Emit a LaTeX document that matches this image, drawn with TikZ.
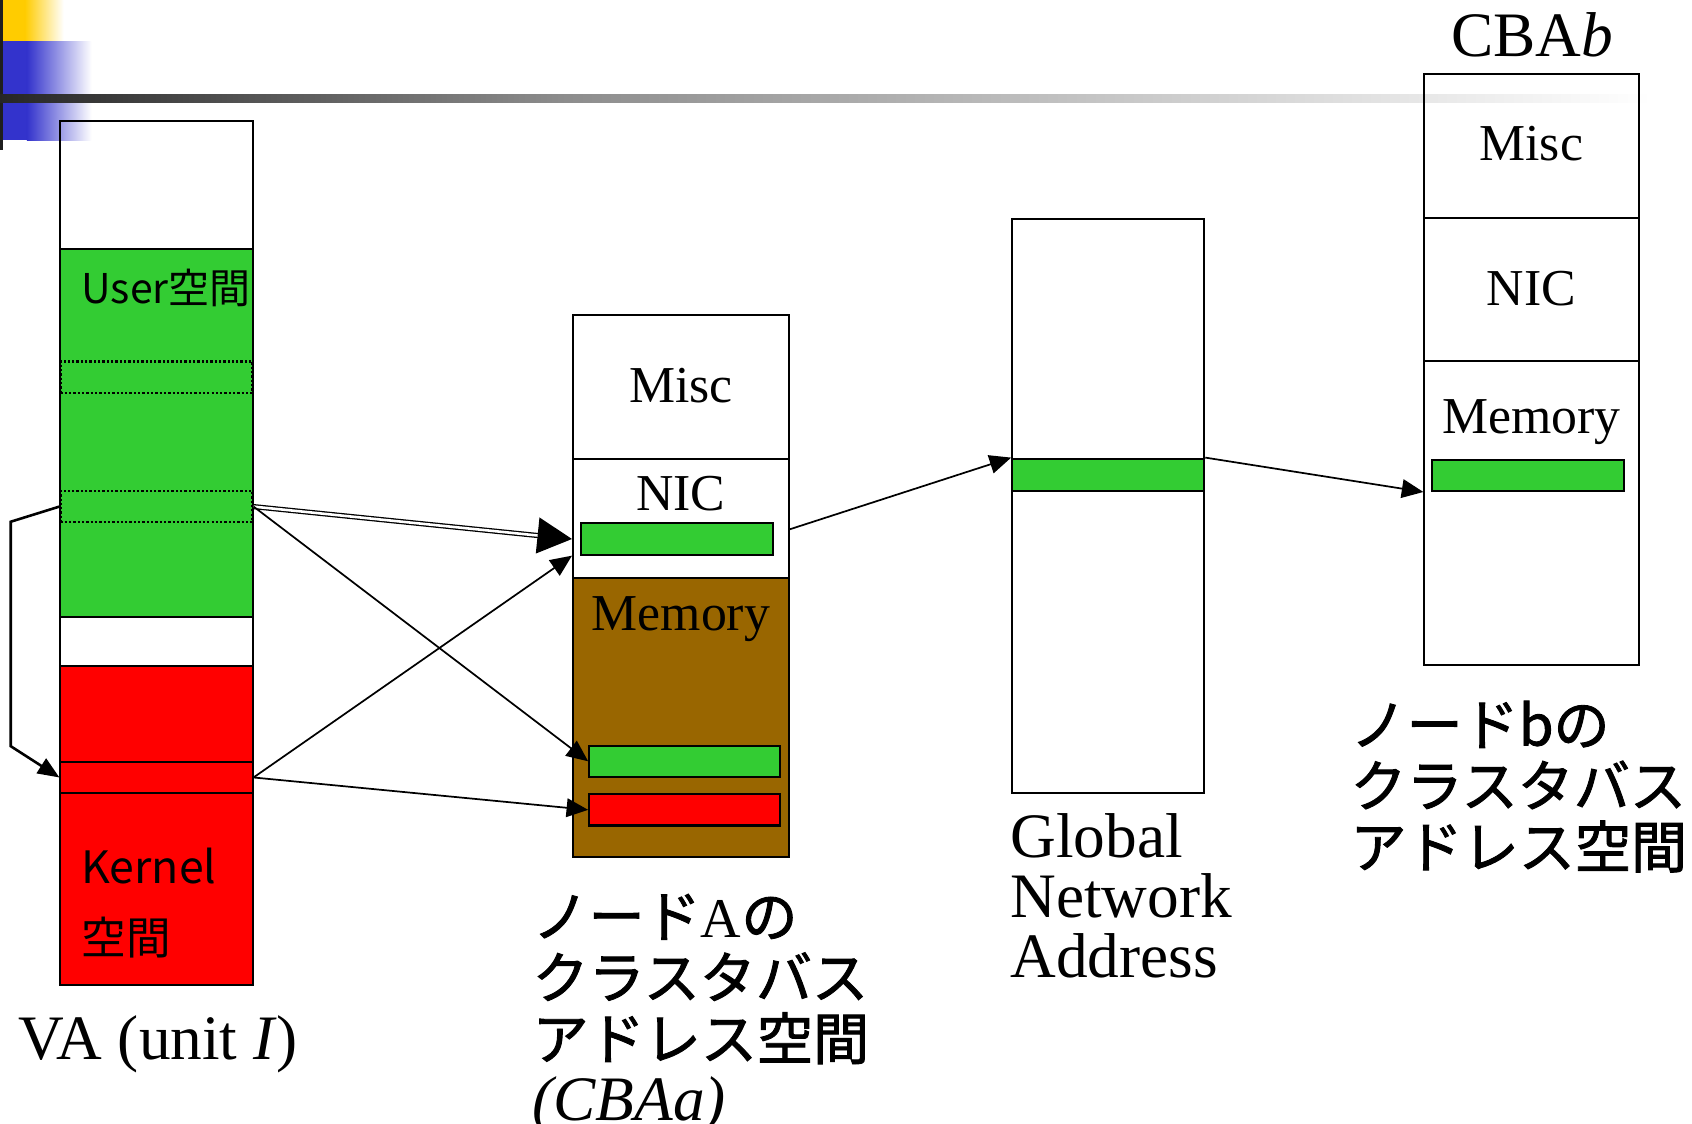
\documentclass[tikz,border=0pt]{standalone}
\usepackage{fontspec}
\setmainfont{Liberation Serif}
\newfontfamily\jpfont{Noto Sans CJK JP}
\newfontfamily\jpheavy[FakeBold=1.6]{Noto Sans CJK JP}
\usetikzlibrary{arrows.meta,calc,fit}

\definecolor{grn}{RGB}{51,204,51}
\definecolor{rd}{RGB}{255,0,0}
\definecolor{brn}{RGB}{153,102,0}
\definecolor{yel}{RGB}{255,204,0}
\definecolor{blu}{RGB}{51,51,204}

\tikzset{every picture/.style={line width=0.75pt}}
\tikzset{
  seg/.style={draw, inner sep=0pt, line width=1.4pt},
  slotbox/.style={draw, inner sep=0pt, line width=1.6pt, dash pattern=on 1.6pt off 1.4pt},
  conn/.style={line width=1.2pt, -{Triangle[length=15pt,width=13pt]}},
  bigconn/.style={double, double distance=1.8pt, line width=0.9pt, -{Triangle[length=24pt,width=25pt]}},
  tag/.style={inner sep=0pt, font=\fontsize{36}{36}\selectfont},
  big/.style={inner sep=0pt, align=left, font=\fontsize{44}{42}\selectfont},
  jplbl/.style={inner sep=0pt, align=left, font=\jpheavy\fontsize{39}{42.5}\selectfont}
}

\begin{document}
\begin{tikzpicture}[x=0.75pt,y=0.75pt,yscale=-1,xscale=1]
\useasboundingbox (0,0) rectangle (1568,1041);

%Header decoration
\fill[yel] (3,0) rectangle (23,38);
\shade[left color=yel, right color=white] (23,0) rectangle (59,38);
\fill[blu] (3,38) rectangle (25,130);
\shade[left color=blu, right color=white] (25,38) rectangle (85,130);
\fill[black!88] (0,0) rectangle (3,139);
\shade[left color=black!85, right color=black!45] (0,88) rectangle (520,95);
\shade[left color=black!45, right color=white] (520,88) rectangle (1530,95);

%VA (unit I)
\node[seg, fit={(56,112) (234,913)}] (va) {};
\node[seg, fill=grn, fit={(56,231) (234,572)}] (vaUser) {};
\node[seg, fill=rd, fit={(56,617) (234,913)}] (vaKern) {};
\node[seg, fill=rd, fit={(56,706) (234,735)}] (slotK) {};
\node[slotbox, fit={(56,335) (234,364)}] (slotA) {};
\node[slotbox, fit={(56,455) (234,484)}] (slotU) {};
\node[inner sep=0pt, anchor=base west, font=\jpfont\fontsize{28.5}{28.5}\selectfont] (userLbl) at (75,281) {User空間};
\node[inner sep=0pt, anchor=north west, align=left, font=\jpfont\fontsize{31}{49.5}\selectfont] (kernLbl) at (75,785) {Kernel\\空間};
\node[big, anchor=base west] (vaLbl) at (17,982) {VA (unit \textit{I})};

%CBAa
\node[seg, fit={(531,292) (731,425)}] (aMisc) {};
\node[seg, fit={(531,425) (731,536)}] (aNIC) {};
\node[seg, fill=brn, fit={(531,536) (731,794)}] (aMem) {};
\node[seg, fill=grn, fit={(538,485) (716,514)}] (aNicBar) {};
\node[seg, fill=grn, fit={(546,691) (723,720)}] (aMemG) {};
\node[seg, fill=rd, fit={(546,736) (723,765)}] (aMemR) {};
\node[tag, anchor=base] (aMiscLbl) at (631,373) {Misc};
\node[tag, anchor=base] (aNicLbl) at (631,473) {NIC};
\node[tag, anchor=base] (aMemLbl) at (631,584) {Memory};
\node[jplbl, anchor=north west] (nodeALbl) at (493,828) {ノード{\rmfamily A}の\\クラスタバス\\アドレス空間\\{\rmfamily\itshape\fontsize{44}{44}\selectfont (CBAa)}};

%Global Network Address
\node[seg, fit={(938,203) (1116,735)}] (gna) {};
\node[seg, fill=grn, fit={(938,425) (1116,455)}] (gnaBar) {};
\node[big, anchor=north west] (gnaLbl) at (936,753) {Global\\Network\\Address};

%CBAb
\node[seg, fit={(1320,69) (1519,202)}] (bMisc) {};
\node[seg, fit={(1320,202) (1519,335)}] (bNIC) {};
\node[seg, fit={(1320,335) (1519,616)}] (bMem) {};
\node[seg, fill=grn, fit={(1327,426) (1505,455)}] (bMemG) {};
\node[tag, anchor=base] (bMiscLbl) at (1419,149) {Misc};
\node[tag, anchor=base] (bNicLbl) at (1419,283) {NIC};
\node[tag, anchor=base] (bMemLbl) at (1419,402) {Memory};
\node[big, anchor=base] (cbbLbl) at (1420,52) {CBA\textit{b}};
\node[jplbl, anchor=north west] (nodeBLbl) at (1251,649) {ノードbの\\クラスタバス\\アドレス空間};

%Connectors
\draw[line width=1.8pt, -{Triangle[length=15pt,width=12pt]}] (slotU.west) -- ++(-45,14) -- ++(0,208) -- (slotK.west);
\draw[bigconn] (slotU.east) -- (aNIC.west |- aNicBar.west);
\draw[conn] (slotU.east) -- (aMemG.west);
\draw[conn] (slotK.east) -- (aNIC.west |- aNicBar.south);
\draw[conn] (slotK.east) -- (aMemR.west);
\draw[conn] ($(aNIC.east)+(0,10)$) -- (gnaBar.north west);
\draw[conn] (gnaBar.north east) -- (bMem.west |- bMemG.south);

\end{tikzpicture}
\end{document}
